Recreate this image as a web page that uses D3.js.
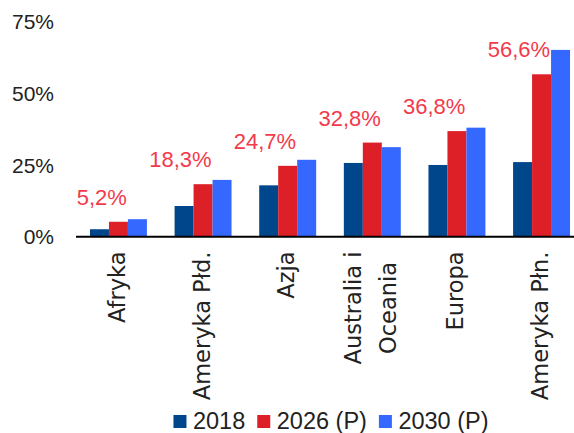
<!DOCTYPE html>
<html>
<head>
<meta charset="utf-8">
<script src="https://cdn.jsdelivr.net/npm/d3@7"></script>
<style>
  html, body { margin: 0; padding: 0; background: #fff; }
  svg { display: block; }
</style>
</head>
<body>
<div id="chart"></div>
<script>
const W = 574
const H = 433

// data
const categories = ["Afryka", "Ameryka Płd.", "Azja", "Australia i|Oceania", "Europa", "Ameryka Płn."]
const seriesNames = ["2018", "2026 (P)", "2030 (P)"]
const v2018 = [2.6, 10.7, 17.9, 25.7, 25.0, 26.0]
const v2026 = [5.2, 18.3, 24.7, 32.8, 36.8, 56.6]
const v2030 = [6.1, 19.8, 26.8, 31.2, 38.0, 65.1]
const yTicks = [0, 25, 50, 75]
const colors = ["#00468b", "#dd1f27", "#3568ff"]

const rows = categories.map((c, i) => ({cat: c, vals: [v2018[i], v2026[i], v2030[i]]}))

const svg = d3.select("#chart").append("svg")
    .attr("width", W)
    .attr("height", H)

const x = d3.scaleBand().domain(categories).range([76, 584]).paddingInner(0.327).paddingOuter(0.165)
const xs = d3.scaleBand().domain(seriesNames).range([0, x.bandwidth()])
const y = d3.scaleLinear().domain([0, 75]).range([236.7, 21.5])

// y tick labels (no axis line)
svg.append("g")
    .selectAll("text")
    .data(yTicks)
    .enter()
    .append("text")
    .attr("x", 54)
    .attr("y", d => y(d))
    .attr("dy", "0.36em")
    .attr("text-anchor", "end")
    .attr("font-family", "'Liberation Sans', Arial, sans-serif")
    .attr("font-size", 21)
    .attr("fill", "#222")
    .text(d => d + "%")

// bars
const groups = svg.append("g")
    .selectAll("g")
    .data(rows)
    .enter()
    .append("g")
    .attr("transform", d => `translate(${x(d.cat)},0)`)

groups.selectAll("rect")
    .data(d => d.vals.map((v, k) => ({k, v})))
    .enter()
    .append("rect")
    .attr("x", d => xs(seriesNames[d.k]))
    .attr("width", xs.bandwidth())
    .attr("y", d => y(d.v))
    .attr("height", d => y(0) - y(d.v))
    .attr("fill", d => colors[d.k])

// baseline
svg.append("line")
    .attr("x1", 76).attr("x2", W)
    .attr("y1", y(0)).attr("y2", y(0))
    .attr("stroke", "#000")
    .attr("stroke-width", 2)

// value labels over the 2026 bars, kept clear of the 2030 bar
const fmt = v => v.toFixed(1).replace(".", ",") + "%"
svg.append("g")
    .selectAll("text")
    .data(rows)
    .enter()
    .append("text")
    .attr("y", d => y(d.vals[1]) - 17)
    .attr("text-anchor", "middle")
    .attr("font-family", "'Liberation Sans', Arial, sans-serif")
    .attr("font-size", 22)
    .attr("fill", "#f33a4c")
    .text(d => fmt(d.vals[1]))
    .each(function(d) {
      const half = this.getComputedTextLength() / 2
      const cx = x(d.cat) + x.bandwidth() / 2
      const limit = x(d.cat) + xs(seriesNames[2]) - 1
      d3.select(this).attr("x", Math.min(cx, limit - half))
    })

// category labels, rotated
const lineH = 35
svg.append("g")
    .selectAll("text")
    .data(rows)
    .enter()
    .append("text")
    .attr("font-family", "'DejaVu Sans', sans-serif")
    .attr("font-size", 22.5)
    .attr("fill", "#222")
    .attr("text-anchor", "middle")
    .each(function(d) {
      const t = d3.select(this)
      const lines = d.cat.split("|")
      lines.forEach((l, i) => {
        t.append("tspan")
          .attr("x", 0)
          .attr("dy", i === 0 ? 0 : lineH)
          .text(l)
      })
      let maxLen = 0
      t.selectAll("tspan").each(function() { maxLen = Math.max(maxLen, this.getComputedTextLength()) })
      const cx = x(d.cat) + x.bandwidth() / 2 + 6.5 - (lines.length - 1) * lineH / 2
      const cy = 251.5 + maxLen / 2
      t.attr("transform", `translate(${cx},${cy}) rotate(-90)`)
    })

// legend
const legend = svg.append("g")
let lx = 0
seriesNames.forEach((s, k) => {
  legend.append("rect")
    .attr("x", lx).attr("y", 415)
    .attr("width", 13).attr("height", 13)
    .attr("fill", colors[k])
  const t = legend.append("text")
    .attr("x", lx + 19.5)
    .attr("y", 429)
    .attr("font-family", "'Liberation Sans', Arial, sans-serif")
    .attr("font-size", 23.5)
    .attr("fill", "#222")
    .text(s)
  lx += 19.5 + t.node().getComputedTextLength() + 12
})
const legW = lx - 12
legend.attr("transform", `translate(${331 - legW / 2},0)`)
</script>
</body>
</html>
